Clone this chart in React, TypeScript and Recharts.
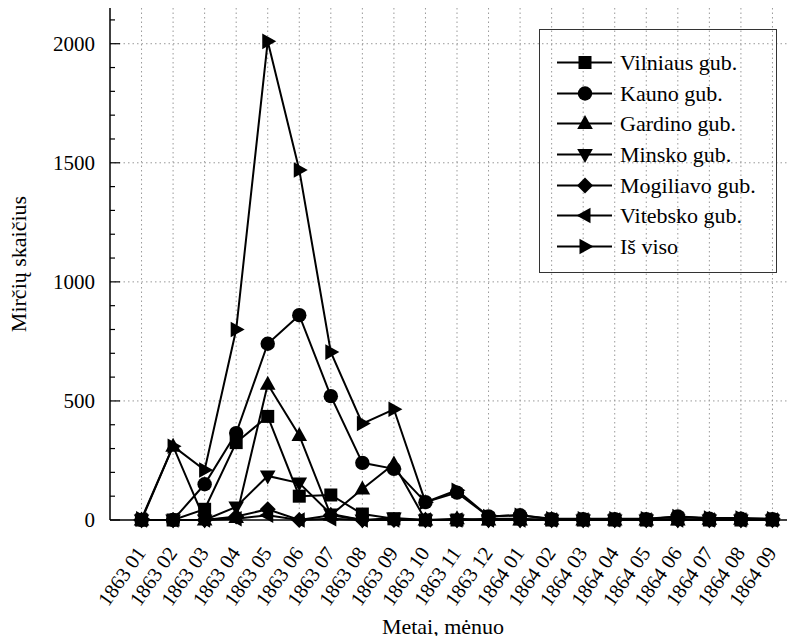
import { LineChart, Line, XAxis, YAxis, CartesianGrid, Label } from "recharts";

const CATEGORIES = [
  "1863 01", "1863 02", "1863 03", "1863 04", "1863 05", "1863 06", "1863 07",
  "1863 08", "1863 09", "1863 10", "1863 11", "1863 12", "1864 01", "1864 02",
  "1864 03", "1864 04", "1864 05", "1864 06", "1864 07", "1864 08", "1864 09",
];

const VILNIAUS = [0, 0, 45, 325, 435, 100, 105, 25, 5, 0, 0, 5, 5, 0, 0, 0, 0, 5, 0, 0, 0];
const KAUNO = [0, 0, 150, 365, 740, 860, 520, 240, 215, 75, 115, 15, 20, 3, 3, 3, 3, 15, 5, 5, 3];
const GARDINO = [0, 310, 0, 10, 570, 355, 20, 130, 235, 0, 5, 0, 0, 3, 0, 0, 0, 0, 3, 3, 0];
const MINSKO = [0, 0, 0, 55, 185, 155, 25, 0, 8, 0, 0, 0, 0, 0, 0, 0, 0, 0, 0, 0, 0];
const MOGILIAVO = [0, 0, 0, 15, 45, 0, 20, 0, 0, 0, 0, 0, 0, 0, 0, 0, 0, 0, 0, 0, 0];
const VITEBSKO = [0, 0, 0, 5, 20, 0, 5, 0, 0, 0, 0, 0, 0, 0, 0, 0, 0, 0, 0, 0, 0];
const IS_VISO = [5, 310, 210, 800, 2010, 1470, 705, 405, 465, 75, 125, 15, 20, 5, 5, 5, 5, 15, 8, 8, 5];

const Y_TICKS = Array.from({ length: 22 }, (_, i) => i * 100);
const Y_GRID = [500, 1000, 1500, 2000];
const X_TICKS = CATEGORIES.map((_, i) => i);

const SERIES = [
  { key: "vilniaus", name: "Vilniaus gub.", values: VILNIAUS, shape: "square" },
  { key: "kauno", name: "Kauno gub.", values: KAUNO, shape: "circle" },
  { key: "gardino", name: "Gardino gub.", values: GARDINO, shape: "up" },
  { key: "minsko", name: "Minsko gub.", values: MINSKO, shape: "down" },
  { key: "mogiliavo", name: "Mogiliavo gub.", values: MOGILIAVO, shape: "diamond" },
  { key: "vitebsko", name: "Vitebsko gub.", values: VITEBSKO, shape: "left" },
  { key: "isviso", name: "Iš viso", values: IS_VISO, shape: "right" },
];

const data = CATEGORIES.map((label, i) => {
  const row: Record<string, number | string> = { i, label };
  SERIES.forEach((s) => (row[s.key] = s.values[i]));
  return row;
});

const FONT = "Liberation Serif";

function Marker({ shape, cx, cy }: { shape: string; cx: number; cy: number }) {
  const pts = (arr: number[][]) => arr.map(([x, y]) => `${cx + x},${cy + y}`).join(" ");
  switch (shape) {
    case "square":
      return <rect x={cx - 6.5} y={cy - 6.5} width={13} height={13} fill="#000" />;
    case "circle":
      return <circle cx={cx} cy={cy} r={7.2} fill="#000" />;
    case "up":
      return <polygon points={pts([[0, -8.5], [7.8, 5.5], [-7.8, 5.5]])} fill="#000" />;
    case "down":
      return <polygon points={pts([[0, 8.5], [7.8, -5.5], [-7.8, -5.5]])} fill="#000" />;
    case "diamond":
      return <polygon points={pts([[0, -8], [8, 0], [0, 8], [-8, 0]])} fill="#000" />;
    case "left":
      return <polygon points={pts([[-8.5, 0], [5.5, -7.8], [5.5, 7.8]])} fill="#000" />;
    default:
      return <polygon points={pts([[8.5, 0], [-5.5, -7.8], [-5.5, 7.8]])} fill="#000" />;
  }
}

function YTick({ x, y, payload }: any) {
  const v = payload.value;
  const major = v % 500 === 0;
  return (
    <g>
      <line x1={x} y1={y} x2={x + (major ? 10 : 5)} y2={y} stroke="#000" strokeWidth={1.2} />
      {major && (
        <text x={x - 15} y={y + 7} textAnchor="end" fontSize={21} fontFamily={FONT} fill="#000">
          {v}
        </text>
      )}
    </g>
  );
}

function XTick({ x, y, payload }: any) {
  return (
    <g transform={`translate(${x + 5},${y + 33})`}>
      <text textAnchor="end" transform="rotate(-55)" fontSize={20.5} fontFamily={FONT} fill="#000">
        {CATEGORIES[payload.value]}
      </text>
    </g>
  );
}

function ChartLegend() {
  return (
    <div
      style={{
        position: "absolute",
        left: 539,
        top: 29,
        width: 238,
        height: 244,
        border: "1.5px solid #333",
        boxSizing: "border-box",
        fontSize: 22,
      }}
    >
      {SERIES.map((s, k) => (
        <div key={s.key} style={{ position: "absolute", left: 0, top: 17 + k * 30.67, height: 31, width: "100%" }}>
          <svg width={60} height={31} style={{ position: "absolute", left: 17 }}>
            <line x1={0} y1={15.5} x2={55} y2={15.5} stroke="#000" strokeWidth={2} />
            <Marker shape={s.shape} cx={28} cy={15.5} />
          </svg>
          <span style={{ position: "absolute", left: 80, top: 0, lineHeight: "31px", whiteSpace: "nowrap" }}>{s.name}</span>
        </div>
      ))}
    </div>
  );
}

export default function App() {
  return (
    <div
      style={{
        position: "relative",
        margin: -8,
        width: 795,
        height: 644,
        overflow: "hidden",
        background: "#fff",
        fontFamily: FONT,
      }}
    >
      <LineChart
        width={830}
        height={644}
        data={data}
        margin={{ top: 8, right: 26, bottom: 0, left: 0 }}
      >
        <CartesianGrid
          stroke="#999"
          strokeDasharray="1.5 3"
          horizontalValues={Y_GRID}
          verticalValues={X_TICKS}
        />
        <XAxis
          dataKey="i"
          type="number"
          domain={[-1, 21]}
          ticks={X_TICKS}
          interval={0}
          height={124}
          tickSize={0}
          tickMargin={0}
          tick={<XTick />}
          axisLine={{ stroke: "#000", strokeWidth: 1.5 }}
        >
          <Label
            content={() => (
              <text x={443} y={634} textAnchor="middle" fontSize={22} fontFamily={FONT} fill="#000">
                Metai, mėnuo
              </text>
            )}
          />
        </XAxis>
        <YAxis
          type="number"
          domain={[0, 2150]}
          ticks={Y_TICKS}
          interval={0}
          width={110}
          tickSize={0}
          tickMargin={0}
          tick={<YTick />}
          axisLine={{ stroke: "#000", strokeWidth: 1.5 }}
        >
          <Label
            content={() => (
              <text
                x={26}
                y={264}
                transform="rotate(-90 26 264)"
                textAnchor="middle"
                fontSize={22}
                fontFamily={FONT}
                fill="#000"
              >
                Mirčių skaičius
              </text>
            )}
          />
        </YAxis>
        {SERIES.map((s) => (
          <Line
            key={s.key}
            dataKey={s.key}
            name={s.name}
            type="linear"
            stroke="#000"
            strokeWidth={2}
            isAnimationActive={false}
            dot={(p: any) => <Marker key={`${s.key}-${p.index}`} shape={s.shape} cx={p.cx} cy={p.cy} />}
            activeDot={false}
          />
        ))}
      </LineChart>
      <ChartLegend />
    </div>
  );
}
